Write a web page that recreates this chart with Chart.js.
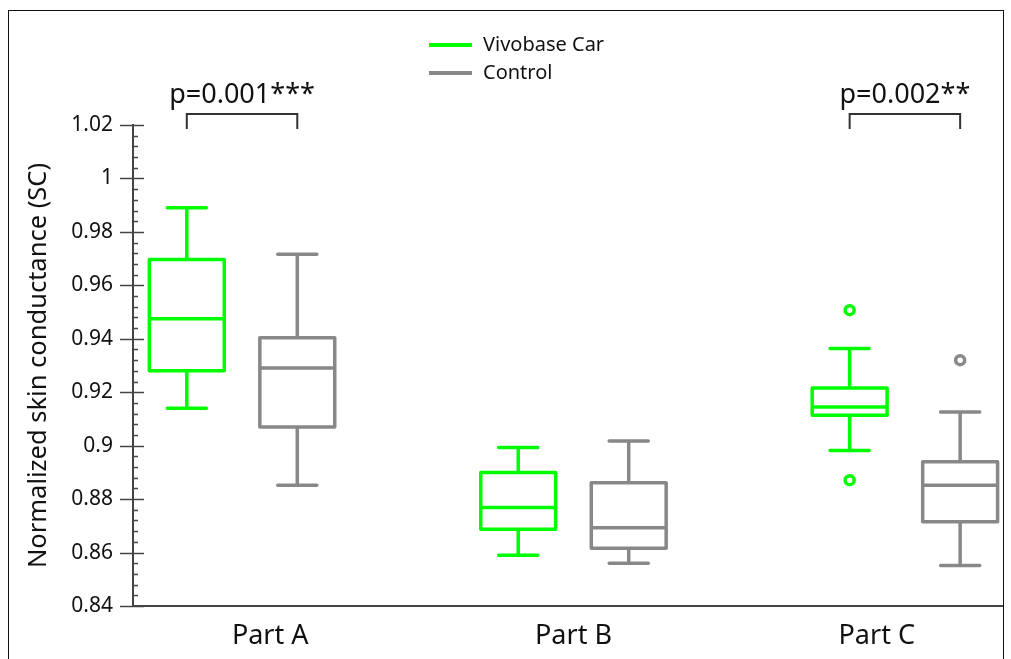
<!DOCTYPE html>
<html>
<head>
<meta charset="utf-8">
<script src="https://cdn.jsdelivr.net/npm/chart.js@4.4.1/dist/chart.umd.min.js"></script>
<style>
  html, body { margin: 0; padding: 0; background: #fff; }
  #wrap { position: relative; width: 1011px; height: 659px; overflow: hidden; }
  #frame {
    position: absolute; left: 8px; top: 10px; width: 996px; height: 700px;
    border: 1.5px solid #111; box-sizing: border-box; pointer-events: none;
  }
</style>
</head>
<body>
<div id="wrap">
  <canvas id="myChart" width="1011" height="659"></canvas>
  <div id="frame"></div>
</div>
<script>
const ctx = document.getElementById('myChart');

// categories and series
const categories = ['Part A', 'Part B', 'Part C'];
const seriesNames = ['Vivobase Car', 'Control'];

// [lower whisker, Q1, median, Q3, upper whisker] for each part
const vivobaseBox = [
  [0.914, 0.928, 0.9475, 0.9697, 0.989],
  [0.859, 0.8687, 0.8769, 0.890, 0.8993],
  [0.8982, 0.9114, 0.9145, 0.9216, 0.9364]
];
const controlBox = [
  [0.8852, 0.907, 0.9291, 0.9404, 0.9716],
  [0.856, 0.8616, 0.8693, 0.8861, 0.9017],
  [0.8552, 0.8715, 0.8852, 0.894, 0.9126]
];

// points outside the whiskers
const vivobaseOutliers = [[], [], [0.9507, 0.8871]];
const controlOutliers = [[], [], [0.932]];

// significance labels per part (null = none)
const pLabels = ['p=0.001***', null, 'p=0.002**'];

// y tick labels
const yTickValues = [0.84, 0.86, 0.88, 0.9, 0.92, 0.94, 0.96, 0.98, 1, 1.02];

const colors = ['rgb(0, 255, 0)', 'rgb(136, 136, 136)'];
const boxes = [vivobaseBox, controlBox];
const GROUP_OFFSET = 0.1667;   // distance of each box from the part centre
const BOX_HALF = 0.113;
const CAP_HALF = 0.059;
const labelPos = [1.085, 2, 2.915];
const FONT = '"Noto Sans", sans-serif';

function outlierPoints(list, g) {
  let pts = [];
  list.forEach((vals, i) => {
    vals.forEach(v => pts.push({x: i + 1 + (g === 0 ? -GROUP_OFFSET : GROUP_OFFSET), y: v}));
  });
  return pts;
}

const boxPlot = {
  id: 'boxPlot',
  beforeDatasetsDraw(chart) {
    const {ctx, scales: {x, y}} = chart;
    ctx.save();
    ctx.lineCap = 'round';
    ctx.lineJoin = 'round';
    ctx.lineWidth = 3.5;
    boxes.forEach((series, g) => {
      ctx.strokeStyle = colors[g];
      series.forEach((s, i) => {
        const c = i + 1 + (g === 0 ? -GROUP_OFFSET : GROUP_OFFSET);
        const xc = x.getPixelForValue(c);
        const x0 = x.getPixelForValue(c - BOX_HALF);
        const x1 = x.getPixelForValue(c + BOX_HALF);
        const cx0 = x.getPixelForValue(c - CAP_HALF);
        const cx1 = x.getPixelForValue(c + CAP_HALF);
        const [lo, q1, med, q3, hi] = s.map(v => y.getPixelForValue(v));
        ctx.beginPath();
        // box
        ctx.rect(x0, q3, x1 - x0, q1 - q3);
        // median
        ctx.moveTo(x0, med); ctx.lineTo(x1, med);
        // whiskers
        ctx.moveTo(xc, q3); ctx.lineTo(xc, hi);
        ctx.moveTo(cx0, hi); ctx.lineTo(cx1, hi);
        ctx.moveTo(xc, q1); ctx.lineTo(xc, lo);
        ctx.moveTo(cx0, lo); ctx.lineTo(cx1, lo);
        ctx.stroke();
      });
    });
    ctx.restore();
  },
  afterDraw(chart) {
    const {ctx, chartArea, scales: {x, y}} = chart;
    ctx.save();
    // y tick marks: majors cross the axis, minors sit on the right
    ctx.strokeStyle = '#444';
    ctx.lineWidth = 1.5;
    const ax = chartArea.left;
    for (let i = 0; i <= 45; i++) {
      const py = Math.round(y.getPixelForValue(0.84 + i * 0.004)) + 0.5;
      ctx.beginPath();
      if (i % 5 === 0) {
        ctx.moveTo(ax - 13, py); ctx.lineTo(ax + 11, py);
      } else {
        ctx.moveTo(ax, py); ctx.lineTo(ax + 5, py);
      }
      ctx.stroke();
    }

    // significance brackets
    ctx.strokeStyle = '#333';
    ctx.lineWidth = 2;
    ctx.fillStyle = '#111';
    ctx.font = '27px ' + FONT;
    ctx.textAlign = 'center';
    ctx.textBaseline = 'alphabetic';
    pLabels.forEach((label, i) => {
      if (!label) return;
      const l = x.getPixelForValue(i + 1 - GROUP_OFFSET);
      const r = x.getPixelForValue(i + 1 + GROUP_OFFSET);
      const top = chartArea.top - 11;
      ctx.beginPath();
      ctx.moveTo(l, chartArea.top + 4);
      ctx.lineTo(l, top);
      ctx.lineTo(r, top);
      ctx.lineTo(r, chartArea.top + 4);
      ctx.stroke();
      ctx.fillText(label, x.getPixelForValue(i + 1), top - 11);
    });

    // legend
    ctx.font = '20px ' + FONT;
    ctx.textAlign = 'left';
    ctx.textBaseline = 'middle';
    ctx.lineWidth = 4;
    seriesNames.forEach((name, g) => {
      const ly = 45 + g * 28;
      ctx.strokeStyle = colors[g];
      ctx.beginPath();
      ctx.moveTo(429, ly); ctx.lineTo(472, ly);
      ctx.stroke();
      ctx.fillStyle = '#111';
      ctx.fillText(name, 483, ly);
    });
    ctx.restore();
  }
};

new Chart(ctx, {
  type: 'scatter',
  data: {
    datasets: seriesNames.map((name, g) => ({
      label: name,
      data: outlierPoints(g === 0 ? vivobaseOutliers : controlOutliers, g),
      borderColor: colors[g],
      backgroundColor: '#fff',
      pointRadius: 4.5,
      pointBorderWidth: 3.5,
      pointStyle: 'circle'
    }))
  },
  options: {
    responsive: false,
    devicePixelRatio: 1,
    animation: false,
    layout: {
      padding: {left: 14, top: 125, right: 8, bottom: 0}
    },
    plugins: {
      legend: {display: false},
      tooltip: {enabled: false}
    },
    scales: {
      x: {
        type: 'linear',
        min: 0.671,
        max: 3.296,
        grid: {display: false, drawTicks: false},
        border: {display: true, color: '#444', width: 2},
        afterBuildTicks: scale => { scale.ticks = labelPos.map(v => ({value: v})); },
        afterFit: scale => { scale.height = 53; },
        ticks: {
          padding: 14,
          color: '#111',
          font: {family: FONT, size: 27},
          callback: (v, i) => categories[i]
        }
      },
      y: {
        min: 0.84,
        max: 1.02,
        grid: {display: false, drawTicks: false},
        border: {display: true, color: '#444', width: 2},
        afterBuildTicks: scale => { scale.ticks = yTickValues.map(v => ({value: v})); },
        afterFit: scale => { scale.width = 119; },
        ticks: {
          padding: 20,
          color: '#111',
          font: {family: FONT, size: 21},
          callback: v => String(+v.toFixed(2))
        },
        title: {
          display: true,
          text: 'Normalized skin conductance (SC)',
          color: '#111',
          font: {family: FONT, size: 25.5},
          padding: {top: 9, bottom: 0}
        }
      }
    }
  },
  plugins: [boxPlot]
});
</script>
</body>
</html>
